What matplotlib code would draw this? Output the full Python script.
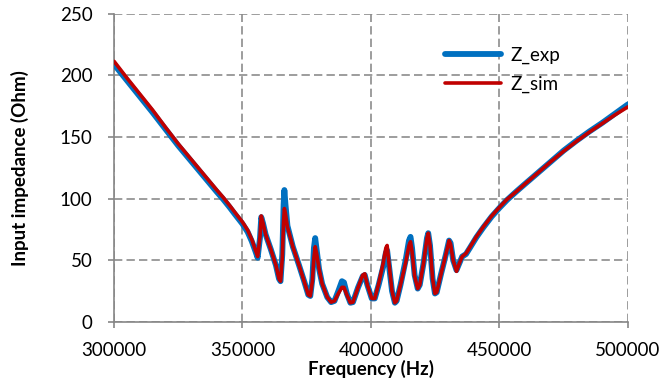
import numpy as np
import matplotlib
matplotlib.use("Agg")
import matplotlib.pyplot as plt

# frequency points (kHz)
freq_khz = [300, 305, 310, 315, 320, 325, 330, 335, 340, 342.5, 345, 347,
            350, 352, 353.6, 355, 355.9, 356.8, 357.3, 358, 359, 361, 363, 364.2, 364.8,
            365.5, 366.0, 366.3, 366.7, 367.5, 369.6, 372, 374, 375.6, 376.4,
            377.2, 377.8, 378.3, 378.9, 379.8, 381, 383, 384.5, 385.8,
            387.3, 388.7, 389.5, 390.6, 392, 393, 395, 396.8, 397.6, 398.6,
            400.3, 401.5, 403, 404.8, 405.8, 406.3, 407, 408.2, 409.3, 410,
            411.5, 413.5, 414.8, 415.4, 416, 417, 418.2, 419, 420.5, 421.8,
            422.3, 423, 424, 424.9, 425.6, 427.3, 429.2, 430.4, 431, 432,
            433.3, 434.3, 435.5, 437, 438.5, 441, 443.7, 447, 450, 453, 456.7,
            460, 465, 470, 475, 480, 485, 490, 495, 500]

z_exp = [209, 196, 183, 170, 156.5, 143, 130.5, 118, 105.5, 99.5, 93, 87.5,
         79.5, 73, 65.5, 57.5, 52, 68, 85, 80, 71, 59, 46, 35, 33,
         55, 95, 107, 96, 78, 61, 46, 33, 22, 21,
         35, 60, 68, 58, 43, 31, 20, 16, 17,
         25, 33, 32, 23, 15.5, 16, 28, 37, 38, 30,
         19, 19, 30, 45, 56, 58, 46, 25, 15.5, 17,
         30, 50, 66, 69, 60, 38, 27, 30, 48, 68,
         72, 62, 35, 23, 24, 39, 55, 66, 64, 50,
         42, 47, 53, 55, 60, 68.5, 76.5, 85.5, 92.5, 99, 106,
         112, 121, 130, 139, 147, 154.5, 161.5, 169, 176.5]

z_sim = [211.5, 198, 185, 172, 158, 144.5, 132, 119.5, 107, 101, 94.5, 89,
         81, 74.5, 67, 58.5, 53, 69, 86, 80, 71, 59, 46, 35, 33,
         52, 82, 92, 88, 77, 61, 46, 33, 22, 21,
         33, 52, 61, 55, 43, 31, 20, 16, 17,
         23, 28, 28, 22, 15.5, 16, 28, 38, 39, 30,
         19, 19, 31, 48, 60, 62, 48, 25, 15.5, 17,
         30, 48, 62, 65, 57, 37, 27, 30, 48, 68,
         72, 62, 35, 23, 24, 39, 55, 66, 63, 50,
         41, 47, 53, 55.5, 60.5, 69, 77, 86, 93, 99.5, 106,
         112, 121, 130, 138.5, 146.5, 154, 161, 168, 174.5]

freq = [f * 1000 for f in freq_khz]

x_ticks = [300000, 350000, 400000, 450000, 500000]
y_ticks = [0, 50, 100, 150, 200, 250]

plt.rcParams['font.family'] = ['Lato', 'DejaVu Sans']
fs = 13.5

fig = plt.figure(figsize=(6.63, 3.85), dpi=100)
ax = fig.add_axes([0.172, 0.164, 0.775, 0.800])

ax.plot(freq, z_exp, color='#0070C0', lw=4.2, label='Z_exp',
        solid_capstyle='round', solid_joinstyle='round', zorder=3)
ax.plot(freq, z_sim, color='#C00000', lw=2.6, label='Z_sim',
        solid_capstyle='round', solid_joinstyle='round', zorder=4)

ax.set_xlim(300000, 500000)
ax.set_ylim(0, 250)
ax.set_xticks(x_ticks)
ax.set_yticks(y_ticks)
ax.set_xticklabels([str(v) for v in x_ticks])
ax.grid(True, color='#8c8c8c', linestyle=(0, (5, 2.5)), linewidth=1.2)
ax.set_axisbelow(True)

for side in ['top', 'right']:
    ax.spines[side].set_visible(False)
for side in ['left', 'bottom']:
    ax.spines[side].set_color('#868686')
    ax.spines[side].set_linewidth(1.2)
ax.tick_params(direction='out', length=4.5, width=1.2, color='#868686',
               labelsize=fs, labelcolor='#000000')
ax.tick_params(axis='y', pad=11)
ax.tick_params(axis='x', pad=10)

ax.set_xlabel('Frequency (Hz)', fontsize=fs, fontweight='bold', labelpad=1)
ax.set_ylabel('Input impedance (Ohm)', fontsize=fs, fontweight='bold', labelpad=22)

ax.legend(loc='upper left', bbox_to_anchor=(0.612, 0.948), frameon=False,
          fontsize=fs, handlelength=2.95, labelspacing=0.62, handletextpad=0.5)

fig.savefig('out.png', dpi=100)
